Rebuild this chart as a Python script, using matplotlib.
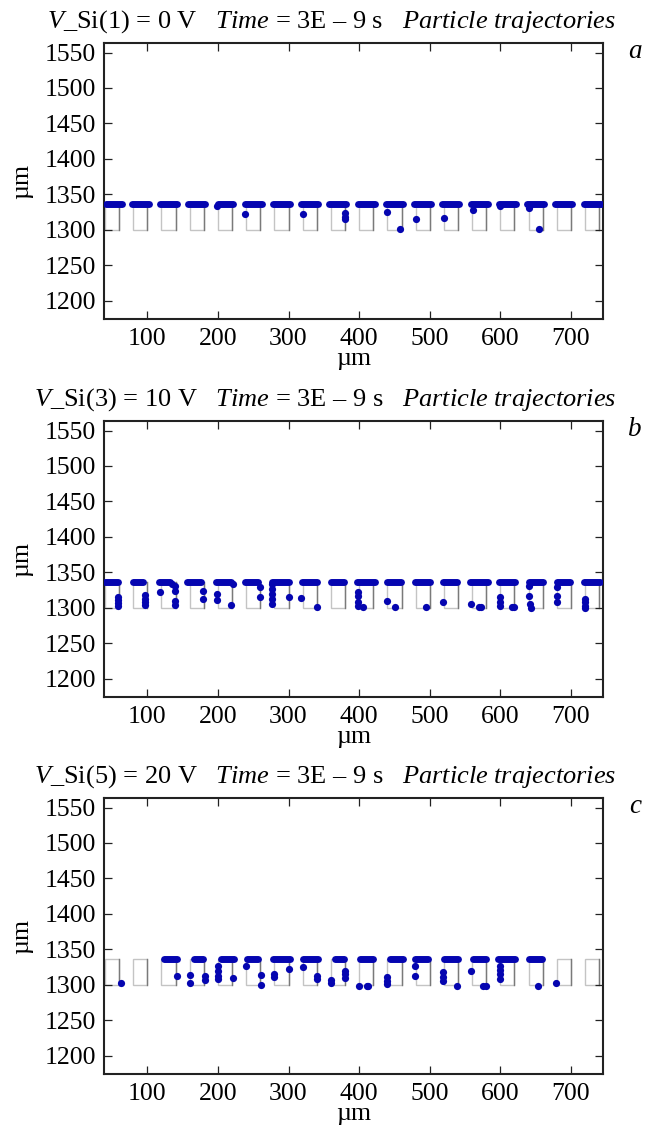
import numpy as np
import matplotlib.pyplot as plt
from matplotlib.patches import Rectangle

plt.rcParams['font.family'] = ['Liberation Serif', 'DejaVu Serif']
plt.rcParams['mathtext.fontset'] = 'custom'
plt.rcParams['mathtext.rm'] = 'Liberation Serif'
plt.rcParams['mathtext.it'] = 'Liberation Serif:italic'

# electrode cells (left edge, um) and their size
cell_left = [40, 80, 120, 160, 200, 240, 280, 320, 360,
             400, 440, 480, 520, 560, 600, 640, 680, 720]
cell_w = 20
cell_y0, cell_y1 = 1300, 1336

titles = [r'$V$_Si(1) = 0 V   $Time$ = 3E – 9 s   $Particle\ trajectories$',
          r'$V$_Si(3) = 10 V   $Time$ = 3E – 9 s   $Particle\ trajectories$',
          r'$V$_Si(5) = 20 V   $Time$ = 3E – 9 s   $Particle\ trajectories$']
letters = ['a', 'b', 'c']

xticks = [100, 200, 300, 400, 500, 600, 700]
yticks = [1200, 1250, 1300, 1350, 1400, 1450, 1500, 1550]

# dense rows of particles sitting on the cell tops: x start / x end
a_row_x0 = [42, 78, 118, 158, 200, 238, 278, 318, 358, 398, 438, 478, 518, 558, 598, 638, 678, 718]
a_row_x1 = [64, 103, 142, 182, 222, 262, 302, 342, 382, 422, 462, 502, 542, 582, 622, 662, 702, 742]
# single particles
a_x = [198, 239, 320, 380, 380, 380, 440, 458, 480, 520, 561, 600, 640, 655]
a_y = [1333, 1323, 1322, 1324, 1318, 1315, 1325, 1301, 1315, 1317, 1328, 1333, 1331, 1301]

b_row_x0 = [40, 79, 117, 156, 197, 238, 276, 319, 360, 397, 439, 479, 519, 557, 598, 640, 680, 718]
b_row_x1 = [59, 94, 132, 176, 219, 257, 300, 341, 379, 422, 459, 500, 539, 582, 621, 661, 699, 741]
b_x = [59, 59, 59, 59, 97, 97, 97, 97,
       118, 135, 139, 139, 139, 139, 179, 179,
       198, 198, 219, 221, 259, 259,
       277, 277, 277, 277, 277, 300, 318, 340,
       399, 399, 399, 399, 405, 439, 451, 495, 519,
       559, 570, 572, 600, 600, 600, 616, 619,
       640, 640, 642, 644, 680, 680, 680, 720, 720, 720, 720]
b_y = [1315, 1311, 1307, 1303, 1318, 1313, 1309, 1304,
       1322, 1334, 1331, 1324, 1310, 1304, 1324, 1312,
       1319, 1311, 1304, 1333, 1330, 1315,
       1334, 1327, 1319, 1312, 1305, 1316, 1314, 1301,
       1322, 1317, 1308, 1303, 1301, 1310, 1301, 1301, 1309,
       1305, 1301, 1301, 1315, 1309, 1303, 1301, 1301,
       1331, 1317, 1305, 1300, 1329, 1317, 1308, 1312, 1308, 1303, 1300]

c_row_x0 = [123, 166, 205, 241, 278, 320, 366, 401, 443, 479, 520, 561, 597, 640]
c_row_x1 = [142, 179, 223, 257, 302, 342, 378, 419, 462, 498, 540, 580, 621, 659]
c_x = [62, 142, 160, 160, 182, 182,
       200, 200, 200, 200, 221, 240, 261, 261,
       280, 280, 301, 320, 341, 341,
       360, 360, 380, 380, 380, 400, 411, 413,
       439, 439, 439, 479, 479, 519, 519, 519, 539,
       559, 576, 580, 599, 599, 599, 599, 654, 679]
c_y = [1303, 1313, 1314, 1302, 1313, 1307,
       1326, 1319, 1313, 1308, 1310, 1327, 1314, 1300,
       1315, 1311, 1322, 1325, 1313, 1308,
       1307, 1302, 1320, 1315, 1310, 1299, 1299, 1299,
       1311, 1306, 1301, 1327, 1313, 1318, 1311, 1306, 1299,
       1320, 1299, 1299, 1327, 1321, 1315, 1308, 1299, 1303]

rows_x0 = [a_row_x0, b_row_x0, c_row_x0]
rows_x1 = [a_row_x1, b_row_x1, c_row_x1]
dots_x = [a_x, b_x, c_x]
dots_y = [a_y, b_y, c_y]

blue = '#0505b0'
W, H = 655, 1133
fig = plt.figure(figsize=(W / 100, H / 100), dpi=100)

ax_top_px = [43.3, 421.3, 798.3]
ax_h_px = 276
for i in range(3):
    bottom = (H - ax_top_px[i] - ax_h_px) / H
    ax = fig.add_axes([104.3 / W, bottom, 498.4 / W, ax_h_px / H])

    # cell outlines, right wall a bit darker
    for x0 in cell_left:
        ax.add_patch(Rectangle((x0, cell_y0), cell_w, cell_y1 - cell_y0,
                               fill=False, edgecolor='#c4c4c4', lw=1.0, zorder=1))
        ax.plot([x0 + cell_w, x0 + cell_w], [cell_y0, cell_y1], color='#7a7a7a', lw=1.0, zorder=1)

    for x0, x1 in zip(rows_x0[i], rows_x1[i]):
        ax.plot([x0, x1], [cell_y1, cell_y1], color=blue, lw=5.0,
                solid_capstyle='round', zorder=3)
    ax.plot(dots_x[i], dots_y[i], 'o', color=blue, ms=5.2, mec='none', zorder=3)

    ax.set_xlim(39, 745)
    ax.set_ylim(1174, 1563)
    ax.set_xticks(xticks)
    ax.set_yticks(yticks)
    ax.tick_params(direction='in', length=6, width=0.9, top=True, right=True,
                   labelsize=18.5, color='#222222', pad=6)
    for s in ax.spines.values():
        s.set_linewidth(1.5)
        s.set_color('#222222')
    ax.set_xlabel('µm', fontsize=18.5, labelpad=-1)
    ax.set_ylabel('µm', fontsize=18.5, labelpad=8)

    ty = 1 - (ax_top_px[i] - 22) / H
    fig.text(616 / W, ty, titles[i], fontsize=19, ha='right', va='center')
    fig.text(635 / W, 1 - (ax_top_px[i] + 8) / H, letters[i], fontsize=19.5,
             style='italic', ha='center', va='center')

fig.savefig('out.png', dpi=100)
